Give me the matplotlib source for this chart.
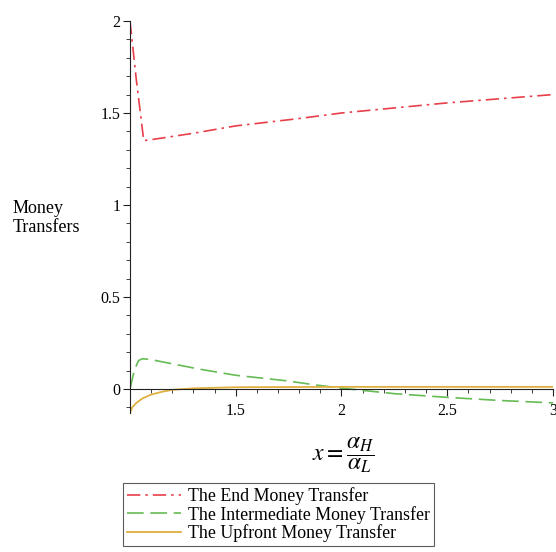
import matplotlib
matplotlib.use("Agg")
import matplotlib.pyplot as plt
from matplotlib.ticker import MultipleLocator, FixedLocator

# Data
x_end = [1.0, 1.03, 1.065, 1.1, 1.3, 1.5, 1.8, 2.0, 2.5, 3.0]
y_end = [2.0, 1.68, 1.35, 1.355, 1.39, 1.43, 1.47, 1.50, 1.555, 1.60]

x_mid = [1.0, 1.02, 1.04, 1.06, 1.1, 1.33, 1.5, 1.74, 1.88, 2.0, 2.25, 2.5, 2.75, 3.0]
y_mid = [0.0, 0.10, 0.155, 0.165, 0.16, 0.108, 0.075, 0.045, 0.022, 0.005, -0.025, -0.045, -0.062, -0.075]

x_up = [1.0, 1.01, 1.03, 1.06, 1.1, 1.15, 1.2, 1.3, 1.5, 2.0, 3.0]
y_up = [-0.13, -0.10, -0.075, -0.05, -0.03, -0.015, -0.004, 0.004, 0.010, 0.012, 0.012]

xticks = [1.5, 2, 2.5, 3]
xtick_labels = ["1.5", "2", "2.5", "3"]
yticks = [0, 0.5, 1, 1.5, 2]
ytick_labels = ["0", "0.5", "1", "1.5", "2"]
labels = ["The End Money Transfer", "The Intermediate Money Transfer", "The Upfront Money Transfer"]

plt.rcParams['font.family'] = ['Liberation Serif', 'DejaVu Serif']
plt.rcParams['mathtext.fontset'] = 'stix'

fig = plt.figure(figsize=(5.56, 5.52), dpi=100)
ax = fig.add_axes([0.2338, 0.2518, 0.7608, 0.7102])

c_end = '#e8404a'
c_mid = '#66bb55'
c_up = '#dfb040'

l1, = ax.plot(x_end, y_end, color=c_end, lw=1.2, dashes=[8, 3, 1.5, 3])
l2, = ax.plot(x_mid, y_mid, color=c_mid, lw=1.2, dashes=[10, 4])
l3, = ax.plot(x_up, y_up, color=c_up, lw=1.3)

ax.set_xlim(1, 3)
ax.set_ylim(-0.13, 2.0)

for s in ['top', 'right']:
    ax.spines[s].set_visible(False)
ax.spines['bottom'].set_position(('data', 0))
ax.spines['left'].set_color('#222222')
ax.spines['bottom'].set_color('#222222')

ax.xaxis.set_major_locator(FixedLocator(xticks))
ax.set_xticklabels(xtick_labels)
ax.xaxis.set_minor_locator(MultipleLocator(0.1))
ax.yaxis.set_major_locator(FixedLocator(yticks))
ax.set_yticklabels(ytick_labels)
ax.yaxis.set_minor_locator(MultipleLocator(0.1))

ax.tick_params(axis='x', which='major', direction='out', length=5, pad=5, labelsize=11.5, color='#222222')
ax.tick_params(axis='x', which='minor', direction='out', length=3, color='#222222')
ax.tick_params(axis='y', which='major', direction='out', length=5, pad=2, labelsize=11.5, color='#222222')
ax.tick_params(axis='y', which='minor', direction='out', length=3, color='#222222')

fig.text(0.023, 0.605, "Money\nTransfers", fontsize=13, ha='left', va='center', linespacing=1.2)

fig.text(0.617, 0.176, r"$x = \dfrac{\alpha_H}{\alpha_L}$", fontsize=17, ha='center', va='center')

leg = fig.legend([l1, l2, l3], labels, loc='upper left', bbox_to_anchor=(0.2212, 0.125),
                 frameon=True, fancybox=False, edgecolor='#333333', fontsize=12.9,
                 handlelength=3.0, handletextpad=0.4, borderpad=0.22, labelspacing=0.05,
                 borderaxespad=0)
leg.get_frame().set_linewidth(0.8)

fig.savefig("out.png", dpi=100)
